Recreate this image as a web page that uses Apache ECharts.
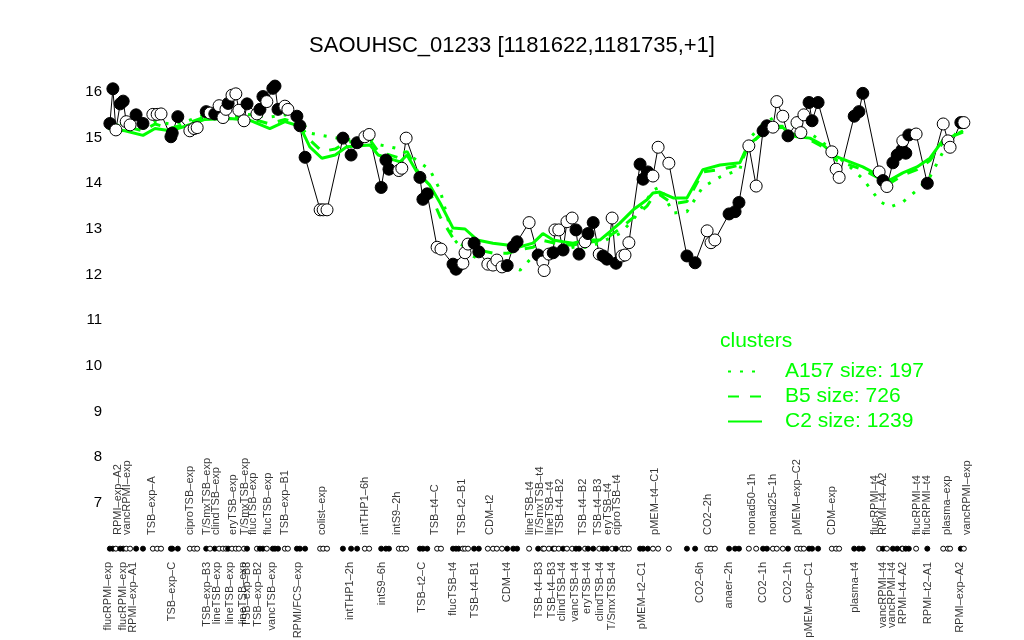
<!DOCTYPE html>
<html><head><meta charset="utf-8">
<script src="https://cdn.jsdelivr.net/npm/echarts@6/dist/echarts.min.js"></script>
<style>html,body{margin:0;padding:0;background:#fff}#c{width:1024px;height:640px}</style>
</head><body><div id="c"></div>
<script>
// ---- data ----
const chartTitle = 'SAOUHSC_01233 [1181622,1181735,+1]';
const yTicks = [7, 8, 9, 10, 11, 12, 13, 14, 15, 16];
const xs = [0.9,1.6,2.3,3.3,4.0,4.7,5.6,7.0,8.6,10.9,
11.9,12.8,15.1,15.4,16.7,19.5,20.5,21.2,23.3,24.2,
25.3,26.3,27.2,27.9,28.4,29.3,30.2,30.9,32.1,32.8,
35.1,35.8,36.5,37.4,38.8,39.3,40.0,41.6,42.3,44.4,
45.1,46.3,49.8,50.5,51.4,55.1,57.0,58.4,60.2,61.2,
64.0,65.1,65.8,68.1,68.8,69.8,73.0,73.7,74.7,77.0,
77.9,80.7,81.4,82.0,83.0,83.5,84.2,85.6,86.7,88.8,
90.0,90.9,92.1,93.3,94.7,95.6,98.4,100.5,101.6,101.9,
103.0,104.0,104.4,105.3,106.3,107.2,108.4,109.3,110.0,111.4,
112.1,113.3,114.7,115.6,116.5,117.7,118.6,120.0,120.7,121.6,
124.2,124.9,126.0,127.2,128.4,130.9,135.1,137.0,139.8,140.7,
141.6,144.9,146.3,147.2,149.5,151.2,152.8,153.7,155.1,156.0,
157.4,158.6,160.7,161.6,162.3,163.5,164.2,165.6,168.8,169.8,
170.5,174.0,175.1,176.0,179.8,180.7,181.6,183.0,184.0,185.1,
185.3,186.0,186.7,188.4,191.0,194.7,195.8,196.3,198.8,199.5];
const ys = [15.31,16.07,15.17,15.74,15.8,15.35,15.28,15.5,15.31,15.51,
15.51,15.52,15.02,15.1,15.46,15.15,15.2,15.22,15.57,15.54,
15.52,15.7,15.44,15.62,15.75,15.93,15.96,15.6,15.37,15.74,
15.52,15.62,15.9,15.79,16.08,16.13,15.62,15.69,15.62,15.47,
15.26,14.57,13.42,13.42,13.42,14.99,14.62,14.89,15.02,15.07,
13.91,14.51,14.31,14.28,14.33,14.99,14.13,13.65,13.77,12.6,
12.56,12.23,12.12,12.2,12.25,12.48,12.67,12.69,12.5,12.23,
12.21,12.32,12.17,12.2,12.61,12.72,13.14,12.43,12.28,12.09,
12.45,12.48,12.98,12.98,12.54,13.16,13.24,12.98,12.45,12.72,
12.9,13.14,12.45,12.41,12.34,13.24,12.25,12.41,12.43,12.7,
14.42,14.09,14.25,14.16,14.79,14.44,12.41,12.26,12.96,12.7,
12.76,13.33,13.38,13.58,14.82,13.94,15.15,15.26,15.23,15.79,
15.47,15.04,15.33,15.11,15.5,15.77,15.37,15.77,14.69,14.31,
14.13,15.47,15.57,15.97,14.25,14.06,13.93,14.45,14.62,14.73,
14.93,14.66,15.06,15.08,14.0,15.3,14.93,14.79,15.33,15.33];
const filled = [1,1,0,1,1,0,0,1,1,0,
0,0,1,1,1,0,0,0,1,0,
1,0,0,0,1,0,0,0,0,1,
0,1,1,0,1,1,1,0,0,1,
1,1,0,0,0,1,1,1,0,0,
1,1,1,0,0,0,1,1,1,0,
0,1,1,1,0,0,0,1,1,0,
0,0,0,1,1,1,0,1,0,0,
0,1,0,0,1,0,0,1,1,0,
1,1,0,1,1,0,1,0,0,0,
1,1,1,0,0,0,1,1,0,0,
0,1,1,1,0,0,1,1,0,0,
0,1,0,0,0,1,1,1,0,0,
0,1,1,1,0,1,0,1,1,1,
0,1,1,0,1,0,0,0,1,0];

const clusterX = [0.5,4.4,8.6,11.4,14.9,18.4,23,28.8,33.5,38.1,41.6,45.1,47.4,50.2,53.3,56,61.4,63.3,68.4,70,72.3,75.3,77.7,80.7,83.5,86.3,90,93.3,96.3,99.3,101.6,104,106.3,108.6,111.9,114.9,117.2,119.5,122.6,125.8,127.2,128.8,131.9,135.1,138.8,142.8,147.4,149.3,152.8,155.1,157.4,159.1,160.7,163.7,166.7,170,173,176,180,182.3,185.3,188.6,191.6,194.7,199.3];
const clusterC2 = [15.2,15.15,15.05,15.2,15.15,15.25,15.4,15.42,15.38,15.2,15.35,15.25,14.8,14.55,14.62,14.8,14.84,14.62,14.47,14.62,14.25,13.96,13.57,13.02,13.0,12.76,12.69,12.65,12.61,12.69,12.9,12.76,12.72,12.69,12.76,12.76,12.94,13.13,13.42,13.64,13.79,13.81,13.68,13.68,14.3,14.4,14.45,14.84,15.1,15.2,15.23,15.06,15.02,14.99,14.84,14.58,14.47,14.36,14.16,14.07,14.23,14.36,14.55,14.95,15.12];
const clusterB5 = [15.3,15.25,15.15,15.3,15.2,15.3,15.45,15.48,15.42,15.3,15.4,15.3,14.95,14.7,14.75,14.9,14.95,14.7,14.55,14.7,14.3,13.8,13.27,12.8,12.6,12.55,12.47,12.47,12.55,12.6,12.75,12.7,12.65,12.65,12.7,12.75,12.85,13.0,13.25,13.5,13.7,13.75,13.55,13.6,14.25,14.3,14.4,14.8,15.12,15.25,15.25,15.1,15.05,14.95,14.8,14.5,14.4,14.3,14.1,14.0,14.18,14.3,14.5,14.9,15.15];
const clusterA157 = [15.35,15.3,15.2,15.35,15.3,15.35,15.5,15.55,15.5,15.45,15.5,15.4,15.1,15.05,15.0,14.95,15.0,14.85,14.75,14.65,14.5,14.3,13.85,12.8,12.5,12.36,12.28,12.2,12.1,12.4,12.5,12.55,12.55,12.6,12.6,12.7,12.8,12.9,13.2,13.64,13.85,13.92,13.35,13.38,13.92,14.14,14.3,14.95,15.3,15.43,15.39,15.3,15.23,15.1,14.9,14.6,14.36,14.1,13.6,13.48,13.59,13.85,14.14,14.7,15.32];
const clusterNames = ['A157 size: 197', 'B5 size: 726', 'C2 size: 1239'];
const legendTitle = 'clusters';

const topLabels = ['RPMI\u2013exp\u2013A2','vancRPMI\u2013exp','TSB\u2013exp\u2013A','ciproTSB\u2013exp','T/SmxTSB\u2013exp','clindTSB\u2013exp','eryTSB\u2013exp','T/SmxTSB\u2013exp','flucTSB\u2013exp','flucTSB\u2013exp','TSB\u2013exp\u2013B1','colist\u2013exp','intTHP1\u20136h','intS9\u20132h','TSB\u2013t4\u2013C','TSB\u2013t2\u2013B1','CDM\u2013t2','lineTSB\u2013t4','T/SmxTSB\u2013t4','lineTSB\u2013t4','TSB\u2013t4\u2013B2','TSB\u2013t4\u2013B2','TSB\u2013t4\u2013B3','eryTSB\u2013t4','ciproTSB\u2013t4','pMEM\u2013t4\u2013C1','CO2\u20132h','nonad50\u20131h','nonad25\u20131h','pMEM\u2013exp\u2013C2','CDM\u2013exp','flucRPMI\u2013t4','RPMI\u2013t4\u2013A2','flucRPMI\u2013t4','flucRPMI\u2013t4','plasma\u2013exp','vancRPMI\u2013exp'];
const topLabelX = [2.8,4.9,10.7,19.5,23.5,25.6,29.5,32.3,34.2,37.7,41.6,50.2,60.2,67.7,76.5,82.8,89.3,98.6,100.9,103.3,105.6,110.9,114.4,116.7,118.8,127.7,140,150.2,155.1,160.7,168.8,178.8,180.7,188.6,190.9,195.6,200.2];
const bottomLabels = ['flucRPMI\u2013exp','flucRPMI\u2013exp','RPMI\u2013exp\u2013A1','TSB\u2013exp\u2013C','TSB\u2013exp\u2013B3','lineTSB\u2013exp','lineTSB\u2013exp','lineTSB\u2013exp','TSB\u2013exp\u2013B3','TSB\u2013exp\u2013B2','vancTSB\u2013exp','RPMI/FCS\u2013exp','intTHP1\u20132h','intS9\u20136h','TSB\u2013t2\u2013C','flucTSB\u2013t4','TSB\u2013t4\u2013B1','CDM\u2013t4','TSB\u2013t4\u2013B3','TSB\u2013t4\u2013B3','clindTSB\u2013t4','vancTSB\u2013t4','eryTSB\u2013t4','clindTSB\u2013t4','T/SmxTSB\u2013t4','pMEM\u2013t2\u2013C1','CO2\u20136h','anaer\u20132h','CO2\u20131h','CO2\u20131h','pMEM\u2013exp\u2013C1','plasma\u2013t4','vancRPMI\u2013t4','vancRPMI\u2013t4','RPMI\u2013t4\u2013A2','RPMI\u2013t2\u2013A1','RPMI\u2013exp\u2013A2'];
const bottomLabelX = [0.5,4,6.3,15.3,23.5,25.8,28.8,31.9,32.8,35.3,38.6,44.7,56.7,64.2,73.5,80.7,85.8,93.3,100.7,103.7,106,109.1,111.9,114.9,117.7,124.7,138.1,144.9,152.8,158.6,163.5,174.2,180.7,182.8,185.3,191.2,198.6];

// ---- layout constants ----
const DOT_ROW = 6.0, TOP_LAB = 6.3, BOT_LAB = 5.71;
const FONT = '"Liberation Sans", Arial, Helvetica, sans-serif';
const GREEN = '#00ff00';

const chart = echarts.init(document.getElementById('c'), null, {renderer: 'canvas'});
const ptStyle = f => ({color: f ? '#000' : '#fff', borderColor: '#000', borderWidth: 1, opacity: 1});
const pts = xs.map((x, i) => ({value: [x, ys[i]], itemStyle: ptStyle(filled[i])}));
const dots = xs.map((x, i) => ({value: [x, DOT_ROW], itemStyle: ptStyle(filled[i])}));
const zip = (a, b) => a.map((x, i) => [x, b[i]]);
const labSeries = (names, xsL, y, align) => ({
  type: 'scatter', silent: true, clip: false, symbolSize: 1, z: 6,
  itemStyle: {color: 'rgba(0,0,0,0)'},
  data: names.map((n, i) => ({name: n, value: [xsL[i], y]})),
  label: {show: true, position: 'inside', formatter: '{b}', rotate: 90, align: align,
    verticalAlign: 'middle', fontSize: 11, color: '#000', fontFamily: FONT}
});

chart.setOption({
  animation: false,
  backgroundColor: '#fff',
  title: [
    {text: chartTitle, left: 'center', top: 35, padding: 0,
      textStyle: {fontSize: 22, fontWeight: 'normal', color: '#000', fontFamily: FONT}},
    {text: legendTitle, left: 720, top: 331, padding: 0,
      textStyle: {fontSize: 21, fontWeight: 'normal', color: GREEN, fontFamily: FONT}}
  ],
  legend: {
    data: clusterNames, orient: 'vertical', left: 727, top: 359, padding: 0,
    itemWidth: 34, itemHeight: 12, itemGap: 0,
    itemStyle: {opacity: 0},
    textStyle: {fontSize: 21, lineHeight: 25, color: GREEN, fontFamily: FONT, padding: [0, 0, 0, 18]},
    selectedMode: false
  },
  grid: {left: 106, width: 860, top: 92, height: 411, containLabel: false},
  xAxis: {type: 'value', min: 0, max: 200, show: false},
  yAxis: {type: 'value', min: 7, max: 16, interval: 1, splitLine: {show: false},
    axisLine: {show: false}, axisTick: {show: false},
    axisLabel: {fontSize: 15, color: '#000', fontFamily: FONT, margin: 4,
      formatter: v => yTicks.includes(v) ? String(v) : ''}},
  series: [
    {type: 'line', data: zip(xs, ys), symbol: 'none', clip: false, z: 2,
      lineStyle: {color: '#000', width: 1}},
    {name: clusterNames[0], type: 'line', data: zip(clusterX, clusterA157), symbol: 'none', clip: false, z: 3,
      itemStyle: {color: GREEN},
      lineStyle: {color: GREEN, width: 3, type: [3, 9], cap: 'butt'}},
    {name: clusterNames[1], type: 'line', data: zip(clusterX, clusterB5), symbol: 'none', clip: false, z: 3,
      itemStyle: {color: GREEN},
      lineStyle: {color: GREEN, width: 3, type: [11, 11], cap: 'butt'}},
    {name: clusterNames[2], type: 'line', data: zip(clusterX, clusterC2), symbol: 'none', clip: false, z: 3,
      itemStyle: {color: GREEN},
      lineStyle: {color: GREEN, width: 3, type: 'solid'}},
    {type: 'scatter', data: pts, symbolSize: 12, clip: false, z: 4},
    {type: 'scatter', data: dots, symbolSize: 5, clip: false, z: 4},
    labSeries(topLabels, topLabelX, TOP_LAB, 'left'),
    labSeries(bottomLabels, bottomLabelX, BOT_LAB, 'right')
  ]
});
</script></body></html>
